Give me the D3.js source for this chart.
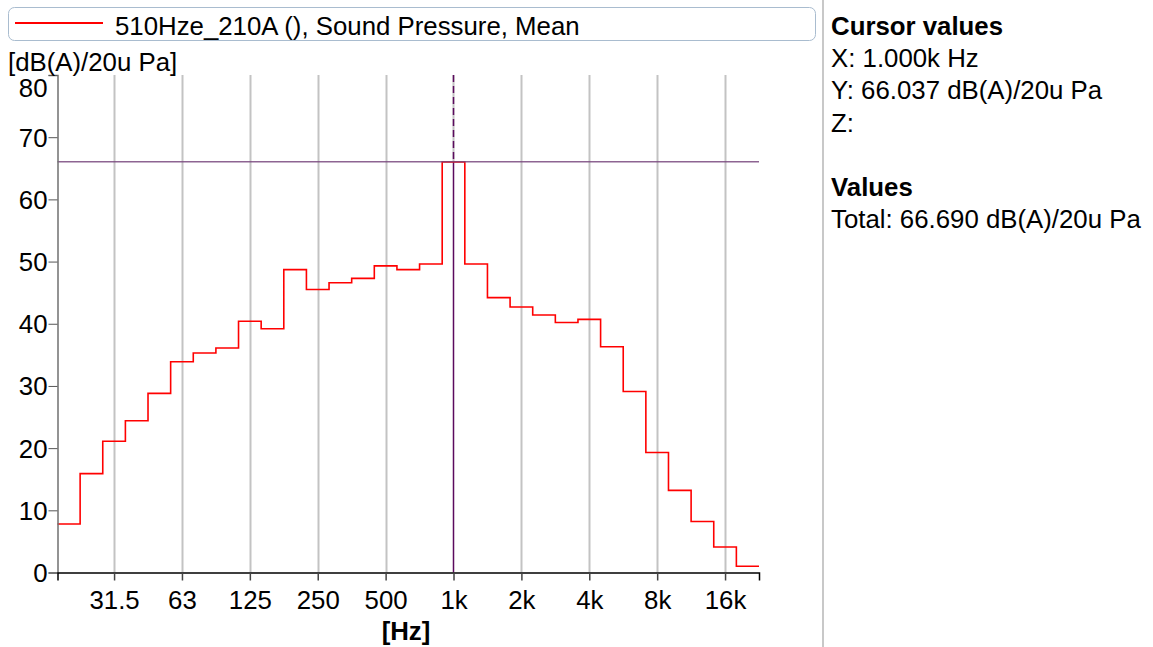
<!DOCTYPE html>
<html>
<head>
<meta charset="utf-8">
<script src="https://cdn.jsdelivr.net/npm/d3@7"></script>
<style>
  html, body { margin: 0; padding: 0; background: #fff; }
  svg text { font-family: "Liberation Sans", Arial, sans-serif; fill: #000; }
</style>
</head>
<body>
<svg id="chart" width="1153" height="647"></svg>
<script>
// third-octave band centres (nominal, Hz) and the mean level in each band
const bandCenters = [20, 25, 31.5, 40, 50, 63, 80, 100, 125, 160, 200, 250, 315, 400, 500, 630,
  800, 1000, 1250, 1600, 2000, 2500, 3150, 4000, 5000, 6300, 8000, 10000, 12500, 16000, 20000];
const levels = [7.8, 15.9, 21.1, 24.4, 28.8, 33.9, 35.3, 36.1, 40.4, 39.2, 48.7, 45.5, 46.6, 47.3, 49.3, 48.7,
  49.6, 66.037, 49.6, 44.2, 42.7, 41.4, 40.2, 40.7, 36.3, 29.1, 19.3, 13.2, 8.2, 4.1, 1.0];

const xTickFreqs = [31.5, 63, 125, 250, 500, 1000, 2000, 4000, 8000, 16000];
const xTickLabels = ["31.5", "63", "125", "250", "500", "1k", "2k", "4k", "8k", "16k"];
const yTicks = [0, 10, 20, 30, 40, 50, 60, 70, 80];

const cursorFreq = 1000;
const cursorLevel = 66.037;
const legendLabel = "510Hze_210A (), Sound Pressure, Mean";
const yUnit = "[dB(A)/20u Pa]";
const xUnit = "[Hz]";
const infoLines = [
  { text: "Cursor values", bold: true },
  { text: "X: 1.000k Hz" },
  { text: "Y: 66.037 dB(A)/20u Pa" },
  { text: "Z:" },
  { text: "" },
  { text: "Values", bold: true },
  { text: "Total: 66.690 dB(A)/20u Pa" }
];

// exact base-2 band centre for a nominal frequency
const exact = f => 1000 * Math.pow(2, Math.round(3 * Math.log2(f / 1000)) / 3);
const lowEdge = f => exact(f) / Math.pow(2, 1 / 6);
const highEdge = f => exact(f) * Math.pow(2, 1 / 6);

const PLOT = { left: 57.5, right: 759, top: 75, bottom: 572.5 };
const FONT = "25.8px";

const svg = d3.select("#chart");

const x = d3.scaleLog()
  .domain([lowEdge(bandCenters[0]), highEdge(bandCenters[bandCenters.length - 1])])
  .range([PLOT.left, PLOT.right]);

const y = d3.scaleLinear()
  .domain([0, 80])
  .range([PLOT.bottom, PLOT.top]);

// legend box
const legend = svg.append("g");
legend.append("rect")
  .attr("x", 8.5).attr("y", 7.5)
  .attr("width", 807).attr("height", 33)
  .attr("rx", 6)
  .attr("fill", "#fff")
  .attr("stroke", "#a9bccf")
  .attr("stroke-width", 1);
legend.append("line")
  .attr("x1", 15).attr("x2", 103)
  .attr("y1", 23).attr("y2", 23)
  .attr("stroke", "#ff0000").attr("stroke-width", 2);
legend.append("text")
  .attr("x", 115).attr("y", 35)
  .style("font-size", FONT)
  .text(legendLabel);

// right-hand panel separator
svg.append("line")
  .attr("x1", 823).attr("x2", 823)
  .attr("y1", 0).attr("y2", 647)
  .attr("stroke", "#c8c8c8").attr("stroke-width", 2);

// grid lines at octave ticks
svg.append("g")
  .selectAll("line")
  .data(xTickFreqs.filter(f => f !== cursorFreq))
  .join("line")
  .attr("x1", d => Math.round(x(exact(d))) + 0.5)
  .attr("x2", d => Math.round(x(exact(d))) + 0.5)
  .attr("y1", PLOT.top).attr("y2", PLOT.bottom)
  .attr("stroke", "#c3c3c3").attr("stroke-width", 2);

// cursor: vertical at 1k (dashed above the level, solid below), horizontal at level
const cx = Math.round(x(exact(cursorFreq))) - 0.5;
svg.append("line")
  .attr("x1", cx).attr("x2", cx)
  .attr("y1", PLOT.top).attr("y2", y(cursorLevel))
  .attr("stroke", "#c3c3c3").attr("stroke-width", 2);
svg.append("line")
  .attr("x1", cx).attr("x2", cx)
  .attr("y1", PLOT.top).attr("y2", y(cursorLevel))
  .attr("stroke", "#5b0a5e").attr("stroke-width", 1.5)
  .attr("stroke-dasharray", "7,4");
svg.append("line")
  .attr("x1", cx).attr("x2", cx)
  .attr("y1", y(cursorLevel)).attr("y2", PLOT.bottom)
  .attr("stroke", "#5b0a5e").attr("stroke-width", 1.5);

// stepped spectrum
const stepPts = bandCenters.map((f, i) => [lowEdge(f), levels[i]]);
stepPts.push([highEdge(bandCenters[bandCenters.length - 1]), levels[levels.length - 1]]);
svg.append("path")
  .datum(stepPts)
  .attr("fill", "none")
  .attr("stroke", "#ff0000")
  .attr("stroke-width", 1.6)
  .attr("d", d3.line().x(d => x(d[0])).y(d => y(d[1])).curve(d3.curveStepAfter));

svg.append("line")
  .attr("x1", PLOT.left).attr("x2", PLOT.right)
  .attr("y1", y(cursorLevel)).attr("y2", y(cursorLevel))
  .attr("stroke", "#7b4a80").attr("stroke-width", 1.5)
  .attr("opacity", 0.85);

// y axis
const yAxis = svg.append("g")
  .attr("transform", `translate(${PLOT.left},0)`)
  .call(d3.axisLeft(y).tickValues(yTicks).tickSize(9).tickPadding(1).tickFormat(d3.format("d")));
yAxis.select(".domain").attr("stroke", "#707070").attr("stroke-width", 1.5);
yAxis.selectAll(".tick line").attr("stroke", "#555");
yAxis.selectAll(".tick text")
  .style("font-size", FONT)
  .attr("dy", d => d === 80 ? "0.85em" : "0.35em");

// x axis
const xAxis = svg.append("g")
  .attr("transform", `translate(0,${PLOT.bottom})`)
  .call(d3.axisBottom(x)
    .tickValues(xTickFreqs.map(exact))
    .tickSize(8).tickPadding(10)
    .tickFormat((d, i) => xTickLabels[i]));
xAxis.select(".domain").attr("stroke", "#000").attr("stroke-width", 1.5);
xAxis.selectAll(".tick line").attr("stroke", "#444").attr("stroke-width", 1.5);
xAxis.selectAll(".tick text").style("font-size", FONT);

// axis unit labels
svg.append("text")
  .attr("x", 8).attr("y", 71)
  .style("font-size", FONT)
  .text(yUnit);
svg.append("text")
  .attr("x", 406).attr("y", 640)
  .attr("text-anchor", "middle")
  .style("font-size", FONT)
  .style("font-weight", "bold")
  .text(xUnit);

// cursor / values panel
svg.append("g")
  .selectAll("text")
  .data(infoLines)
  .join("text")
  .attr("x", 831)
  .attr("y", (d, i) => 35 + i * 32.2)
  .style("font-size", FONT)
  .style("font-weight", d => d.bold ? "bold" : "normal")
  .text(d => d.text);
</script>
</body>
</html>
